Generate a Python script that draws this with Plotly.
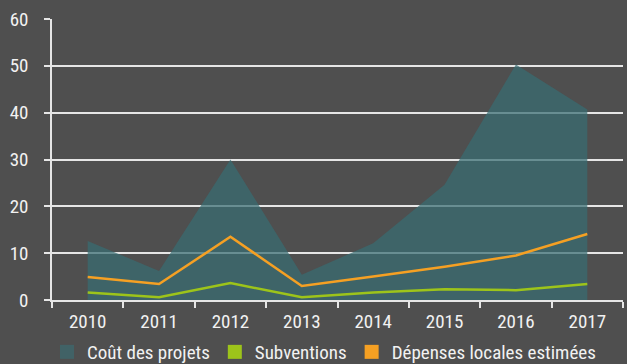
import plotly.graph_objects as go

years = ["2010", "2011", "2012", "2013", "2014", "2015", "2016", "2017"]
cout_projets = [12.6, 6.2, 30.0, 5.4, 12.1, 24.6, 50.3, 40.7]
subventions = [1.6, 0.6, 3.6, 0.6, 1.6, 2.3, 2.1, 3.4]
depenses_locales = [4.9, 3.4, 13.5, 3.0, 5.0, 7.1, 9.5, 14.1]

BG = "#4f4f4f"
TEAL = "rgba(56,108,114,0.72)"
TEAL_SOLID = "#416266"
GREEN = "#9dc41a"
ORANGE = "#f5a023"
AXIS = "#e6e6e6"
TEXT = "#f2f2f2"
FONT = "Roboto Condensed, Liberation Sans, sans-serif"

fig = go.Figure()

fig.add_trace(go.Scatter(
    x=years, y=cout_projets, mode="lines", fill="tozeroy",
    line=dict(width=0, color=TEAL), fillcolor=TEAL, showlegend=False,
))
fig.add_trace(go.Scatter(
    x=years, y=subventions, mode="lines",
    line=dict(width=2.5, color=GREEN), showlegend=False,
))
fig.add_trace(go.Scatter(
    x=years, y=depenses_locales, mode="lines",
    line=dict(width=2.5, color=ORANGE), showlegend=False,
))

# legend entries drawn as square swatches
for name, col in [("Coût des projets", TEAL_SOLID),
                  ("Subventions", GREEN),
                  ("Dépenses locales estimées", ORANGE)]:
    fig.add_trace(go.Scatter(
        x=[None], y=[None], mode="markers", name=name,
        marker=dict(symbol="square", size=14, color=col),
    ))

fig.update_layout(
    width=627, height=364,
    margin=dict(l=52, r=4, t=19, b=64, autoexpand=False),
    paper_bgcolor=BG, plot_bgcolor=BG,
    font=dict(family=FONT, size=19, color=TEXT),
    showlegend=True,
    legend=dict(
        orientation="h", xref="container", x=0.075, xanchor="left",
        yref="container", y=12 / 364, yanchor="middle",
        font=dict(size=19, color=TEXT), itemsizing="trace",
        bgcolor="rgba(0,0,0,0)", tracegroupgap=0,
    ),
    xaxis=dict(
        type="category", range=[-0.5, 7.5], tickson="boundaries",
        ticks="outside", ticklen=6, tickcolor=AXIS, tickwidth=1.5,
        showgrid=False, showline=True, linecolor=AXIS, linewidth=1.5,
        tickfont=dict(size=19, color=TEXT), ticklabelstandoff=3,
    ),
    yaxis=dict(
        range=[0, 60], dtick=10, ticks="outside", ticklen=6,
        tickcolor=AXIS, tickwidth=1.5,
        showgrid=True, gridcolor=AXIS, gridwidth=1.5,
        showline=True, linecolor=AXIS, linewidth=1.5,
        zeroline=False, tickfont=dict(size=19, color=TEXT),
        ticklabelstandoff=12,
    ),
)

fig.write_html("out.html")
